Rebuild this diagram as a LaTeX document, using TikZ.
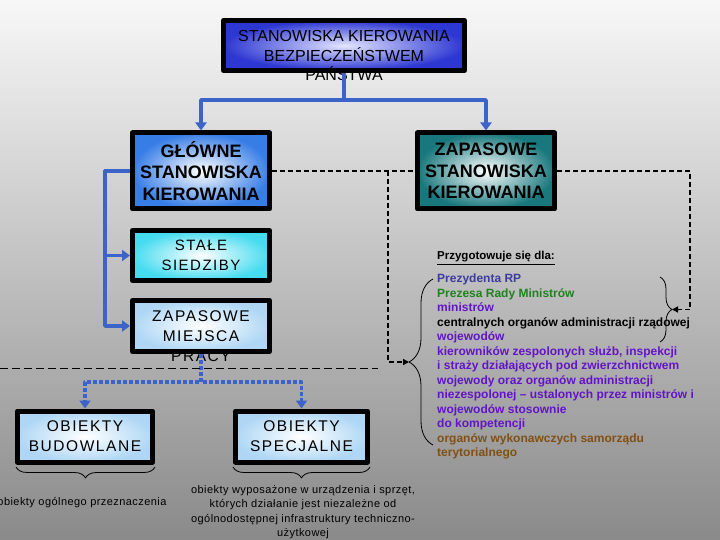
\documentclass[tikz,border=0pt]{standalone}
\usepackage{fontspec}
\setmainfont{Liberation Sans}
\newfontfamily\spacedfont[LetterSpace=10]{Liberation Sans}
\newfontfamily\notefont[LetterSpace=4]{Liberation Sans}
\usepackage{xcolor}
\usepackage{tikz}
\usetikzlibrary{arrows.meta,decorations.pathreplacing}

\definecolor{linkblue}{RGB}{60,100,200}
\definecolor{topedge}{RGB}{45,55,210}
\definecolor{topcore}{RGB}{228,230,255}
\definecolor{mainedge}{RGB}{55,125,230}
\definecolor{mainedge2}{RGB}{25,120,125}
\definecolor{siteedge}{RGB}{70,220,240}
\definecolor{lightedge}{RGB}{175,215,245}
\definecolor{listblue}{RGB}{60,60,160}
\definecolor{listgreen}{RGB}{30,130,30}
\definecolor{listviolet}{RGB}{100,20,200}
\definecolor{listbrown}{RGB}{130,80,20}

\begin{document}
\begin{tikzpicture}[
   x=1pt,
   y=-1pt,
   line join=round,
   box/.style={draw=black,line width=5pt,minimum width=137pt,minimum height=76pt,
     inner sep=0pt,align=center,text=black},
   shortbox/.style={box,minimum height=51pt},
   boxtext/.style={align=center,inner sep=0pt},
   bluelink/.style={draw=linkblue,line width=3.5pt,-{Triangle[width=11pt,length=8pt]}},
   dotlink/.style={bluelink,dash pattern=on 4pt off 2pt},
   dashlink/.style={draw=black,line width=1.6pt,dash pattern=on 5pt off 3pt,
     -{Triangle[width=6pt,length=6pt]}},
   bracket/.style={draw=black,line width=0.8pt,decorate,decoration={brace,amplitude=#1}},
   bracket/.default=11pt
 ]
   \useasboundingbox (0,0) rectangle (720,540);
   % Grey backdrop, light at the top.
   \shade[top color=black!3,bottom color=black!46] (0,0) rectangle (720,540);

   % Boxes.
   \node[box,minimum width=241pt,minimum height=50pt,inner color=topcore,outer color=topedge]
     (top) at (344,45.5) {};
   \node[boxtext,font=\fontsize{16}{19.5}\selectfont] (toptext) at (344,55.5)
     {STANOWISKA KIEROWANIA\\BEZPIECZEŃSTWEM\\PAŃSTWA};
   \node[box,inner color=white,outer color=mainedge,font=\bfseries\fontsize{18}{21.5}\selectfont]
     (glowne) at (201,171) {GŁÓWNE\\STANOWISKA\\KIEROWANIA};
   \node[box,inner color=white,outer color=mainedge2,font=\bfseries\fontsize{18}{21.5}\selectfont]
     (zsk) at (486,171) {ZAPASOWE\\STANOWISKA\\KIEROWANIA};
   \node[shortbox,minimum height=50pt,inner color=white,outer color=siteedge,
     font=\spacedfont\fontsize{15}{20}\selectfont]
     (stale) at (201,255.5) {STAŁE\\SIEDZIBY};
   \node[shortbox,inner color=white,outer color=lightedge] (zmp) at (201,326) {};
   \node[boxtext,font=\spacedfont\fontsize{15.5}{20}\selectfont] (zmptext) at (201,336)
     {ZAPASOWE\\MIEJSCA\\PRACY};
   \node[shortbox,minimum width=135pt,inner color=white,outer color=lightedge,
     font=\spacedfont\fontsize{15.5}{20}\selectfont]
     (budowlane) at (85,436.5) {OBIEKTY\\BUDOWLANE};
   \node[shortbox,minimum width=132pt,inner color=white,outer color=lightedge,
     font=\spacedfont\fontsize{15.5}{20}\selectfont]
     (specjalne) at (301.5,436.5) {OBIEKTY\\SPECJALNE};

   % Blue connectors.
   \draw[bluelink] (top.south) -- ++(0,27) -| (glowne.north);
   \draw[bluelink] (top.south) -- ++(0,27) -| (zsk.north);
   \draw[bluelink] (glowne.west) -- ++(-25,0) |- (stale.west);
   \draw[bluelink] (glowne.west) -- ++(-25,0) |- (zmp.west);
   \draw[dotlink] (zmp.south) -- ++(0,28) -| (budowlane.north);
   \draw[dotlink] (zmp.south) -- ++(0,28) -| (specjalne.north);

   % Braces and their tips.
   \coordinate (bigtip) at (409,362);
   \coordinate (smalltip) at (672,309.5);
   \coordinate (branch) at (388,171);
   \draw[bracket=24pt] (433,445) -- (433,279);
   \draw[bracket=12pt] (660,277) -- (660,342);
   \draw[bracket] (155,467) -- (16,467);
   \draw[bracket] (370,467) -- (233,467);

   % Dashed links to the list.
   \draw[dashlink,-] (glowne.east) -- (zsk.west);
   \draw[dashlink] (branch) |- (bigtip);
   \draw[dashlink] (zsk.east) -- ++(133,0) |- (smalltip);
   \draw[black,line width=1pt,dash pattern=on 8pt off 4pt] (0,368) -- (378,368);

   % Texts.
   \node[anchor=west,inner sep=0pt,font=\bfseries\fontsize{11.5}{14.5}\selectfont]
     (prep) at (437,258) {\underline{Przygotowuje się dla:}};
   \node[anchor=north west,inner sep=0pt,align=left,
     font=\bfseries\fontsize{12}{14.5}\selectfont] (list) at (437,274) {%
     {\color{listblue}Prezydenta RP}\\
     {\color{listgreen}Prezesa Rady Ministrów}\\
     {\color{listviolet}ministrów}\\
     centralnych organów administracji rządowej\\
     {\color{listviolet}wojewodów}\\
     {\color{listviolet}kierowników zespolonych służb, inspekcji}\\
     {\color{listviolet}i straży działających pod zwierzchnictwem}\\
     {\color{listviolet}wojewody oraz organów administracji}\\
     {\color{listviolet}niezespolonej -- ustalonych przez ministrów i}\\
     {\color{listviolet}wojewodów stosownie}\\
     {\color{listviolet}do kompetencji}\\
     {\color{listbrown}organów wykonawczych samorządu}\\
     {\color{listbrown}terytorialnego}};
   \node[boxtext,font=\notefont\fontsize{11}{14.5}\selectfont] (budtext) at (82,503)
     {obiekty ogólnego przeznaczenia};
   \node[boxtext,font=\notefont\fontsize{11}{14.5}\selectfont] (spectext) at (303,512)
     {obiekty wyposażone w urządzenia i sprzęt,\\których działanie jest niezależne od\\
      ogólnodostępnej infrastruktury techniczno-\\użytkowej};
 \end{tikzpicture}
\end{document}
